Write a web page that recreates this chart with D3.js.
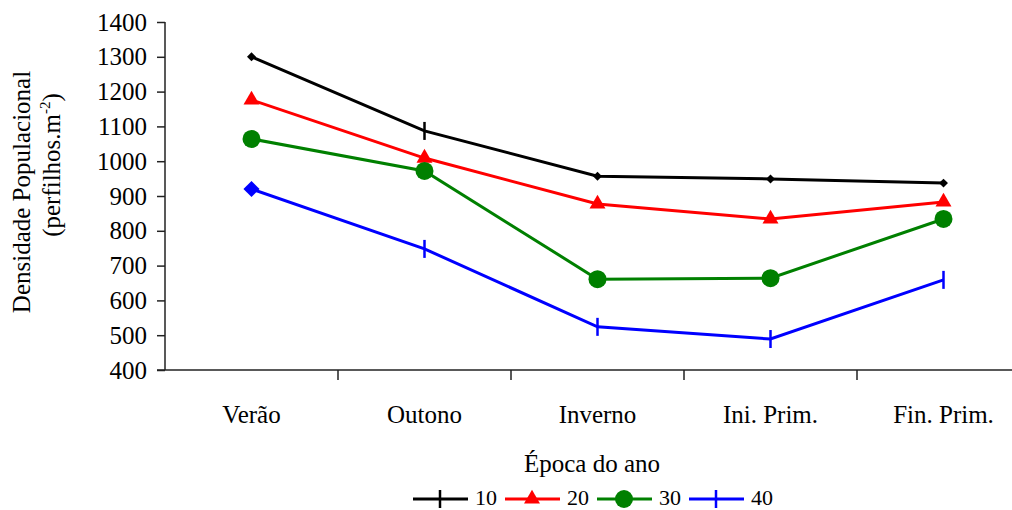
<!DOCTYPE html>
<html>
<head>
<meta charset="utf-8">
<script src="https://cdn.jsdelivr.net/npm/d3@7"></script>
<style>
	body { margin: 0; background: #fff; }
	text { font-family: "Liberation Serif", "Times New Roman", serif; fill: #000; }
	.axis path, .axis line { stroke: #222; stroke-width: 1.5; }
</style>
</head>
<body>
<div id="graphic"></div>
<script>
// data
var seasons = ['Verão', 'Outono', 'Inverno', 'Ini. Prim.', 'Fin. Prim.'];
var yTicks = [400, 500, 600, 700, 800, 900, 1000, 1100, 1200, 1300, 1400];
var series10 = [1300, 1087, 957, 949, 937];
var series20 = [1176, 1009, 877, 834, 883];
var series30 = [1064, 972, 661, 664, 834];
var series40 = [920, 748, 524, 489, 659];
var seriesNames = ['10', '20', '30', '40'];

var width = 1012, height = 510;
var margins = { top: 22, right: -18, bottom: 140, left: 165 };
var chartWidth = width - margins.left - margins.right;
var chartHeight = height - margins.top - margins.bottom;

var svg = d3.select('#graphic').append('svg')
	.attr('width', width)
	.attr('height', height);

var chart = svg.append('g')
	.attr('transform', 'translate(' + margins.left + ',' + margins.top + ')');

var x = d3.scaleBand().domain(seasons).range([0, chartWidth]);
var y = d3.scaleLinear().domain([400, 1400]).range([chartHeight, 0]);

var series = [
	{ name: seriesNames[0], values: series10, color: '#000000', marker: 'diamondSmall' },
	{ name: seriesNames[1], values: series20, color: '#ff0000', marker: 'triangle' },
	{ name: seriesNames[2], values: series30, color: '#008000', marker: 'circle' },
	{ name: seriesNames[3], values: series40, color: '#0000ff', marker: 'bar' }
];

// y axis
var yAxis = chart.append('g')
	.attr('class', 'axis axis-y')
	.call(d3.axisLeft(y).tickValues(yTicks).tickSize(8).tickPadding(10).tickFormat(d3.format('d')));
yAxis.selectAll('text').style('font-size', '25px');
yAxis.select('.domain').attr('d', 'M0,0V' + chartHeight);

// x axis: ticks on category boundaries
var xAxis = chart.append('g')
	.attr('class', 'axis axis-x')
	.attr('transform', 'translate(0,' + chartHeight + ')');
xAxis.append('line').attr('x1', -8).attr('x2', chartWidth);
xAxis.selectAll('line.tk')
	.data(seasons.slice(1))
	.enter().append('line')
	.attr('class', 'tk')
	.attr('x1', function(d) { return x(d); })
	.attr('x2', function(d) { return x(d); })
	.attr('y2', 10);
xAxis.selectAll('text')
	.data(seasons)
	.enter().append('text')
	.attr('x', function(d) { return x(d) + x.bandwidth() / 2; })
	.attr('y', 53)
	.attr('text-anchor', 'middle')
	.style('font-size', '25px')
	.text(function(d) { return d; });

// axis titles
svg.append('text')
	.attr('transform', 'translate(30,192) rotate(-90)')
	.attr('text-anchor', 'middle')
	.style('font-size', '25px')
	.text('Densidade Populacional');
var yl2 = svg.append('text')
	.attr('transform', 'translate(60,165) rotate(-90)')
	.attr('text-anchor', 'middle')
	.style('font-size', '25px');
yl2.append('tspan').text('(perfilhos.m');
yl2.append('tspan').attr('dy', -10).style('font-size', '15px').text('-2');
yl2.append('tspan').attr('dy', 10).text(')');

svg.append('text')
	.attr('x', 592)
	.attr('y', 472)
	.attr('text-anchor', 'middle')
	.style('font-size', '25px')
	.text('Época do ano');

// lines + markers
var line = d3.line()
	.x(function(d, i) { return x(seasons[i]) + x.bandwidth() / 2; })
	.y(function(d) { return y(d); });

function drawMarker(g, type, color) {
	if (type == 'triangle') {
		g.append('path').attr('d', d3.symbol(d3.symbolTriangle, 110)()).attr('fill', color);
	} else if (type == 'circle') {
		g.append('circle').attr('r', 9).attr('fill', color);
	} else if (type == 'diamondSmall') {
		g.append('path').attr('d', d3.symbol(d3.symbolSquare, 40)())
			.attr('transform', 'rotate(45)').attr('fill', color);
	} else if (type == 'diamondBig') {
		g.append('path').attr('d', d3.symbol(d3.symbolSquare, 130)())
			.attr('transform', 'rotate(45)').attr('fill', color);
	} else if (type == 'bar') {
		g.append('line').attr('y1', -9).attr('y2', 9).attr('stroke', color).attr('stroke-width', 2.5);
	}
}

// the source mixes marker shapes on two of the series
function markerFor(s, i) {
	if (s.name == '10') return i == 1 ? 'bar' : 'diamondSmall';
	if (s.name == '40') return i == 0 ? 'diamondBig' : 'bar';
	return s.marker;
}

series.forEach(function(s) {
	var g = chart.append('g').attr('class', 'series');
	g.append('path')
		.attr('d', line(s.values))
		.attr('fill', 'none')
		.attr('stroke', s.color)
		.attr('stroke-width', 3);
	s.values.forEach(function(v, i) {
		var m = g.append('g')
			.attr('transform', 'translate(' + (x(seasons[i]) + x.bandwidth() / 2) + ',' + y(v) + ')');
		drawMarker(m, markerFor(s, i), s.color);
	});
});

// legend
var legend = svg.append('g').attr('transform', 'translate(413,499)');
var lx = 0;
series.forEach(function(s) {
	var item = legend.append('g').attr('transform', 'translate(' + lx + ',0)');
	item.append('line').attr('x1', 0).attr('x2', 55).attr('stroke', s.color).attr('stroke-width', 3);
	var m = item.append('g').attr('transform', 'translate(27,0)');
	drawMarker(m, s.name == '10' ? 'bar' : s.marker, s.color);
	item.append('text')
		.attr('x', 62)
		.attr('y', 6)
		.style('font-size', '22px')
		.text(s.name);
	lx += 92;
});
</script>
</body>
</html>
